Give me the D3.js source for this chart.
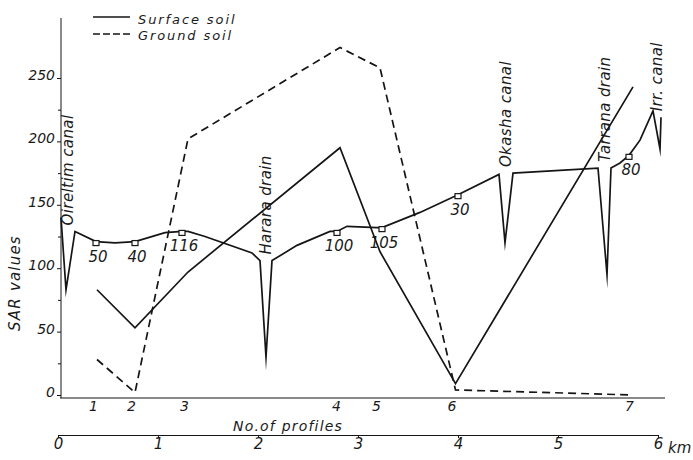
<!DOCTYPE html>
<html>
<head>
<meta charset="utf-8">
<script src="https://cdn.jsdelivr.net/npm/d3@7"></script>
<style>
  body { margin: 0; background: #fff; }
  text { font-family: "DejaVu Sans", sans-serif; font-style: italic; fill: #1a1a1a; }
</style>
</head>
<body>
<svg id="chart" width="693" height="460"></svg>
<script>
// Profiles across the area (position along the transect in km)
const profileNames = ["1", "2", "3", "4", "5", "6", "7"];
const profileKm = [0.39, 0.77, 1.30, 2.82, 3.22, 3.975, 5.75];
const surfaceSAR = [83, 53, 97, 195, 113, 9, 243];
const groundSAR = [28, 2, 202, 274, 258, 4, 0];

// Surface soil SAR along the transect, with dips at canals and drains
const transectKm = [0.03, 0.08, 0.17, 0.38, 0.57, 0.77, 1.07, 1.24, 1.30, 1.47,
  1.94, 2.02, 2.08, 2.14, 2.39, 2.72, 2.79, 2.89, 3.19, 3.24,
  3.62, 4.00, 4.41, 4.47, 4.55, 5.40, 5.49, 5.53, 5.62, 5.71,
  5.82, 5.95, 6.02, 6.03];
const transectSAR = [140, 83, 129, 121, 120, 121, 128, 129, 129, 125,
  112, 106, 30, 106, 118, 129, 129, 133, 132, 132,
  144, 158, 174, 120, 175, 179, 95, 179, 183, 189,
  201, 224, 194, 219];

// Sampling sites on the transect (index into the transect) and their numbers
const sampleIdx = [3, 5, 7, 16, 19, 21, 29];
const sampleLabels = ["50", "40", "116", "100", "105", "30", "80"];

// Water courses crossed by the transect (index of the dip point)
const courseIdx = [1, 12, 23, 26, 32];
const courseNames = ["Oireltim canal", "Harara drain", "Okasha canal", "Tarrana drain", "Irr. canal"];

const yTicks = [0, 50, 100, 150, 200, 250];
const yMinorTicks = [25, 75, 125, 175, 225];
const kmTicks = [0, 1, 2, 3, 4, 5, 6];

const svg = d3.select("#chart");
const x = d3.scaleLinear().domain([0, 6]).range([58, 658]);
const y = d3.scaleLinear().domain([0, 250]).range([395, 78]);
const ink = "#151515";

// ---- axes ----
svg.append("line").attr("x1", 61).attr("x2", 61).attr("y1", 18).attr("y2", 398)
  .attr("stroke", ink).attr("stroke-width", 1);

const yAxis = svg.append("g").attr("transform", "translate(61,0)")
  .call(d3.axisLeft(y).tickValues(yTicks).tickSize(4).tickFormat(d => d));
yAxis.select(".domain").remove();
yAxis.selectAll("line").attr("stroke", ink);
yAxis.selectAll("text").attr("font-size", 14).attr("font-family", "DejaVu Sans")
  .attr("font-style", "italic").attr("fill", ink).attr("dy", "0.1em").attr("x", -6);

const yMinor = svg.append("g").attr("transform", "translate(61,0)")
  .call(d3.axisLeft(y).tickValues(yMinorTicks).tickSize(3).tickFormat(""));
yMinor.select(".domain").remove();
yMinor.selectAll("line").attr("stroke", ink);

svg.append("text")
  .attr("transform", "translate(15,283) rotate(-90)")
  .attr("text-anchor", "middle").attr("dy", "0.35em").attr("font-size", 15)
  .attr("letter-spacing", 1.2)
  .text("SAR values");

// profile axis
svg.append("line").attr("x1", 60).attr("x2", 665).attr("y1", 398).attr("y2", 398)
  .attr("stroke", ink).attr("stroke-width", 1);
const pAxis = svg.append("g").attr("transform", "translate(0,398)")
  .call(d3.axisBottom(x).tickValues(profileKm).tickSize(0).tickFormat((d, i) => profileNames[i]));
pAxis.select(".domain").remove();
pAxis.selectAll("text").attr("font-size", 14).attr("font-family", "DejaVu Sans")
  .attr("font-style", "italic").attr("fill", ink).attr("dy", "0.7em").attr("dx", -4);

svg.append("text").attr("x", 233).attr("y", 431).attr("font-size", 14)
  .attr("letter-spacing", 1.2).text("No.of profiles");

// km axis
const kAxis = svg.append("g").attr("transform", "translate(0,435)")
  .call(d3.axisBottom(x).tickValues(kmTicks).tickSize(3).tickSizeOuter(0).tickFormat(d => d));
kAxis.select(".domain").attr("stroke", ink);
kAxis.selectAll("line").attr("stroke", ink);
kAxis.selectAll("text").attr("font-size", 15).attr("font-family", "DejaVu Sans")
  .attr("font-style", "italic").attr("fill", ink).attr("dy", "0.55em");
svg.append("text").attr("x", 668).attr("y", 453).attr("font-size", 15).text("km");

// ---- profile lines ----
const pLine = d3.line().x((d, i) => x(profileKm[i])).y(d => y(d));

svg.append("path").datum(surfaceSAR).attr("d", pLine)
  .attr("fill", "none").attr("stroke", ink).attr("stroke-width", 1.7)
  .attr("stroke-linejoin", "miter");

svg.append("path").datum(groundSAR).attr("d", pLine)
  .attr("fill", "none").attr("stroke", ink).attr("stroke-width", 1.7)
  .attr("stroke-dasharray", "8,5");

// ---- transect line ----
const tLine = d3.line().x((d, i) => x(transectKm[i])).y(d => y(d));
svg.append("path").datum(transectSAR).attr("d", tLine)
  .attr("fill", "none").attr("stroke", ink).attr("stroke-width", 1.7)
  .attr("stroke-linejoin", "miter").attr("stroke-miterlimit", 20);

// sampling site markers
const sites = svg.append("g");
sampleIdx.forEach((k, j) => {
  const px = x(transectKm[k]), py = y(transectSAR[k]);
  sites.append("rect").attr("x", px - 3).attr("y", py - 1).attr("width", 6).attr("height", 5)
    .attr("fill", "#fff").attr("stroke", ink).attr("stroke-width", 1.2);
  sites.append("text").attr("x", px + 2).attr("y", py + 20).attr("text-anchor", "middle")
    .attr("font-size", 15).text(sampleLabels[j]);
});

// water course names
courseIdx.forEach((k, j) => {
  const cx = (x(transectKm[k - 1]) + x(transectKm[k + 1])) / 2;
  const top = y(transectSAR[k + 1]) - 6;
  svg.append("text")
    .attr("transform", `translate(${cx},${top}) rotate(-90)`)
    .attr("dy", "0.35em").attr("font-size", 15).attr("letter-spacing", 0.4)
    .text(courseNames[j]);
});

// ---- legend ----
const legend = svg.append("g");
legend.append("line").attr("x1", 93).attr("x2", 130).attr("y1", 17).attr("y2", 17)
  .attr("stroke", ink).attr("stroke-width", 1.5);
legend.append("line").attr("x1", 93).attr("x2", 131).attr("y1", 34).attr("y2", 34)
  .attr("stroke", ink).attr("stroke-width", 1.5).attr("stroke-dasharray", "7,3");
legend.append("text").attr("x", 138).attr("y", 24).attr("font-size", 13)
  .attr("letter-spacing", 1.9).text("Surface soil");
legend.append("text").attr("x", 138).attr("y", 40).attr("font-size", 13)
  .attr("letter-spacing", 1.9).text("Ground soil");
</script>
</body>
</html>
